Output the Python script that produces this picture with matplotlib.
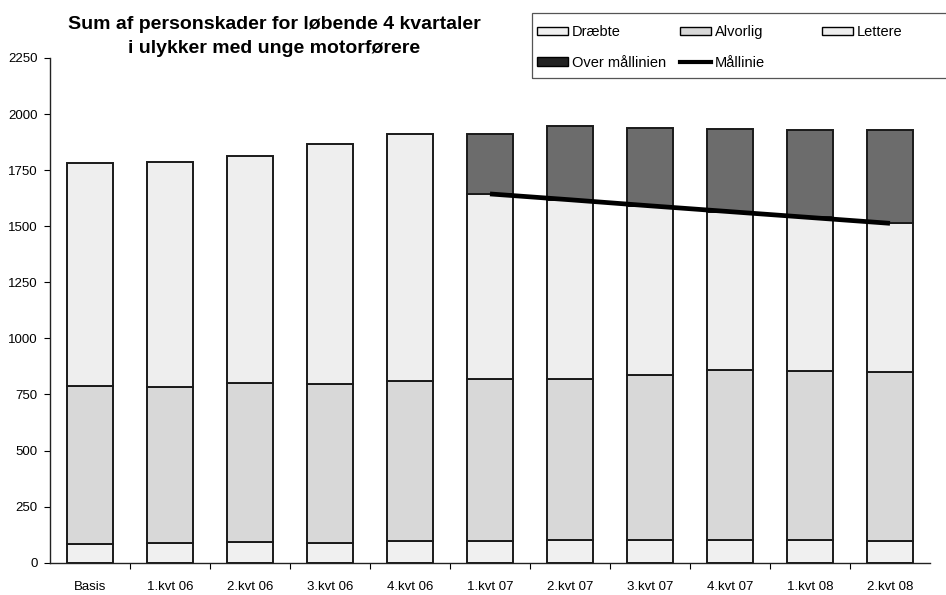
import matplotlib
matplotlib.use('Agg')
import matplotlib.pyplot as plt
from matplotlib.patches import Rectangle, Patch
from matplotlib.lines import Line2D
import numpy as np

plt.rcParams['font.family'] = ['Liberation Sans', 'DejaVu Sans']

# ---------------- data ----------------
categories = ['Basis', '1.kvt 06', '2.kvt 06', '3.kvt 06', '4.kvt 06',
              '1.kvt 07', '2.kvt 07', '3.kvt 07', '4.kvt 07', '1.kvt 08', '2.kvt 08']
draebte = [83, 90, 93, 90, 95, 97, 100, 102, 100, 100, 97]
alvorlig = [703, 692, 708, 707, 717, 723, 717, 734, 757, 756, 755]
lettere = [997, 1003, 1010, 1068, 1100, 1090, 1128, 1103, 1076, 1074, 1075]
malinie = [np.nan, np.nan, np.nan, np.nan, np.nan,
           1644, 1618, 1591, 1565, 1539, 1513]
y_ticks = [0, 250, 500, 750, 1000, 1250, 1500, 1750, 2000, 2250]

title = 'Sum af personskader for løbende 4 kvartaler\ni ulykker med unge motorførere'
legend_labels = ['Dræbte', 'Alvorlig', 'Lettere', 'Over mållinien', 'Mållinie']

# ---------------- derived ----------------
x = np.arange(len(categories))
d = np.array(draebte, float)
a = np.array(alvorlig, float)
l = np.array(lettere, float)
m = np.array(malinie, float)
cum_a = d + a
total = cum_a + l
has_line = ~np.isnan(m)
over = np.where(has_line, total - np.nan_to_num(m), 0.0)
lett_low = l - over

c_draebte = '#f0f0f0'
c_alvorlig = '#d8d8d8'
c_lettere = '#eeeeee'
c_over = '#6c6c6c'

W, H = 946, 595
fig = plt.figure(figsize=(W / 100, H / 100), dpi=100)
ax = fig.add_axes([50 / W, (H - 562.7) / H, 880 / W, (562.7 - 58) / H])

bw = 0.575
ek = dict(edgecolor='#1a1a1a', linewidth=1.4)
ax.bar(x, d, width=bw, color=c_draebte, **ek)
ax.bar(x, a, width=bw, bottom=d, color=c_alvorlig, **ek)
ax.bar(x, lett_low, width=bw, bottom=cum_a, color=c_lettere, **ek)
ax.bar(x[has_line], over[has_line], width=bw, bottom=(cum_a + lett_low)[has_line],
       color=c_over, **ek)
ax.plot(x[has_line], m[has_line], color='black', lw=3.4, solid_capstyle='butt', zorder=5)

ax.set_xlim(-0.5, 10.5)
ax.set_ylim(0, 2250)
ax.set_yticks(y_ticks)
ax.set_yticklabels([str(v) for v in y_ticks])
ax.set_xticks(np.arange(0.5, 10.5, 1))
ax.set_xticklabels([])
ax.set_xticks(x, minor=True)
ax.set_xticklabels(categories, minor=True)
ax.tick_params(axis='x', which='major', direction='out', length=4, width=0.8)
ax.tick_params(axis='x', which='minor', length=0, pad=13, labelsize=9.5)
ax.tick_params(axis='y', direction='out', length=4, width=0.8, pad=5, labelsize=9.5)
for s in ['top', 'right']:
    ax.spines[s].set_visible(False)
for s in ['left', 'bottom']:
    ax.spines[s].set_color('#222222')
    ax.spines[s].set_linewidth(1.0)

fig.text(274 / W, 1 - 36.5 / H, title, ha='center', va='center',
         fontsize=14, fontweight='bold', linespacing=1.5)

# ---------------- legend ----------------
fig.add_artist(Rectangle((532 / W, 1 - 78 / H), (W + 10 - 532) / W, 65 / H,
                         transform=fig.transFigure, fill=False,
                         edgecolor='#555555', lw=0.9, clip_on=False))
h_dr = Patch(facecolor=c_draebte, edgecolor='black', lw=1.0)
h_al = Patch(facecolor=c_alvorlig, edgecolor='black', lw=1.0)
h_le = Patch(facecolor=c_lettere, edgecolor='black', lw=1.0)
h_ov = Patch(facecolor='#222222', edgecolor='black', lw=1.0)
h_ml = Line2D([], [], color='black', lw=3)
leg_kw = dict(loc='upper left', frameon=False, borderpad=0, borderaxespad=0,
              fontsize=10.5, handlelength=2.1, handleheight=0.5,
              handletextpad=0.3, labelspacing=1.15)
cols = [([h_dr, h_ov], [legend_labels[0], legend_labels[3]], 537),
        ([h_al, h_ml], [legend_labels[1], legend_labels[4]], 680),
        ([h_le], [legend_labels[2]], 822)]
for hs, ls, px in cols:
    fig.legend(hs, ls, bbox_to_anchor=(px / W, 1 - 25 / H), **leg_kw)

fig.savefig('out.png', dpi=100)
